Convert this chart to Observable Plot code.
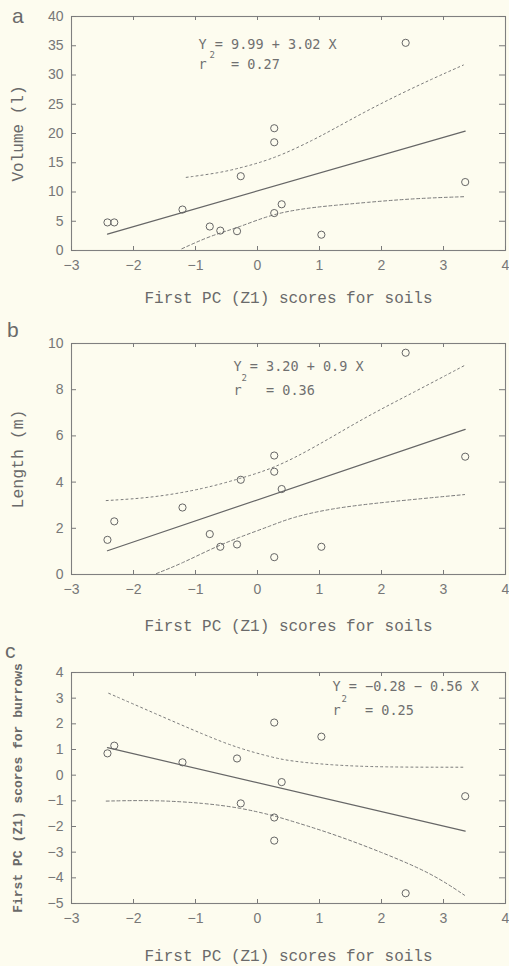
<!DOCTYPE html>
<html><head><meta charset="utf-8">
<script src="https://cdn.jsdelivr.net/npm/d3@7"></script>
<script src="https://cdn.jsdelivr.net/npm/@observablehq/plot@0.6"></script>
<style>
html,body{margin:0;padding:0;background:#fdfcef;}
#wrap{position:relative;width:509px;height:966px;overflow:hidden;}
#wrap svg{display:block;}
svg text{white-space:pre;}
.lbl{position:absolute;font-family:"Liberation Sans",sans-serif;font-size:21px;color:#6a6a6a;line-height:1;}
</style></head><body><div id="wrap"></div>
<script>
// ---- data ----
const soilPC   = [-2.42,-2.31,-1.21,-0.77,-0.60,-0.33,-0.27,0.27,0.27,0.27,0.39,1.03,2.39,3.35];
const volume   = [4.8,4.8,7.0,4.1,3.4,3.3,12.7,6.4,18.5,20.9,7.9,2.7,35.5,11.7];
const lengthM  = [1.5,2.3,2.9,1.75,1.2,1.3,4.1,0.75,4.45,5.15,3.7,1.2,9.6,5.1];
const soilPCc  = [-2.42,-2.31,-1.21,-0.33,-0.27,0.27,0.27,0.27,0.39,1.03,2.39,3.35];
const burrowPC = [0.85,1.15,0.5,0.65,-1.1,2.05,-1.65,-2.55,-0.27,1.5,-4.6,-0.82];

const fitX = [-2.42, 3.35];
const fitVolume = [2.8, 20.4];
const fitLength = [1.03, 6.28];
const fitBurrow = [1.07, -2.18];

const ciVolUpX = [-1.15,-0.6,-0.29,0.0,0.39,0.9,1.2,1.73,2.27,2.81,3.32];
const ciVolUpY = [12.5,13.3,14.1,14.9,16.3,18.9,20.6,23.7,26.6,29.3,31.7];
const ciVolLoX = [-1.22,-0.74,-0.31,0.27,0.92,1.23,1.73,2.53,3.34];
const ciVolLoY = [0.3,2.6,3.9,6.4,7.4,7.7,8.2,8.9,9.2];

const ciLenUpX = [-2.44,-1.66,-0.85,-0.29,0.27,0.92,1.73,2.53,3.34];
const ciLenUpY = [3.2,3.33,3.72,4.15,4.6,5.5,6.8,7.9,9.05];
const ciLenLoX = [-1.63,-1.22,-0.74,-0.31,0.23,0.55,1.19,2.0,3.34];
const ciLenLoY = [0.04,0.48,1.12,1.6,2.12,2.47,2.86,3.12,3.46];

const ciBurUpX = [-2.4,-1.66,-0.85,-0.31,0.23,0.52,1.19,2.0,3.34];
const ciBurUpY = [3.19,2.41,1.56,1.05,0.7,0.55,0.39,0.31,0.31];
const ciBurLoX = [-2.44,-1.66,-0.85,-0.26,0.23,0.39,1.19,2.0,2.81,3.34];
const ciBurLoY = [-1.01,-0.97,-1.09,-1.28,-1.56,-1.67,-2.26,-3.0,-3.82,-4.68];

const xTicks = [-3,-2,-1,0,1,2,3,4];
const yTicksA = [0,5,10,15,20,25,30,35,40];
const yTicksB = [0,2,4,6,8,10];
const yTicksC = [-5,-4,-3,-2,-1,0,1,2,3,4];

const xTitle = "First PC (Z1) scores for soils";
const yTitleA = "Volume (l)";
const yTitleB = "Length (m)";
const yTitleC = "First PC (Z1) scores for burrows";

// equation line 1, the "r" of line 2, and the rest of line 2
const eqA = ["Y = 9.99 + 3.02 X", "r", "= 0.27"];
const eqB = ["Y = 3.20 + 0.9 X", "r", "= 0.36"];
const eqC = ["Y = −0.28 − 0.56 X", "r", "= 0.25"];
const panelLetters = ["a", "b", "c"];

// ---- helpers ----
const zip = (xs, ys) => xs.map((x, i) => ({x, y: ys[i]}));
const INK = "#6f6f6f";
const fmt = d3.format("d");
const EQFONT = {fontFamily: "DejaVu Sans Mono, monospace", fontSize: 13.5, fill: "#707070", textAnchor: "start", lineAnchor: "middle", frameAnchor: "top-left"};

function panel(o) {
  const fw = 509 - 71 - 4;
  const fh = o.height - o.marginTop - o.marginBottom;
  const tk = {stroke: "#7a7a7a", strokeWidth: 1};
  return Plot.plot({
    width: 509, height: o.height,
    marginLeft: 71, marginRight: 4, marginTop: o.marginTop, marginBottom: o.marginBottom,
    style: {background: "transparent", color: INK, fontFamily: "Liberation Sans, sans-serif", fontSize: "14px"},
    x: {domain: [-3, 4]},
    y: {domain: o.yDomain},
    marks: [
      Plot.frame({stroke: "#808080", strokeWidth: 1.1}),
      // inward ticks on all four sides
      Plot.tickY(o.yTicks, {y: d => d, insetRight: fw - 5, ...tk}),
      Plot.tickY(o.yTicks, {y: d => d, insetLeft: fw - 6, ...tk}),
      Plot.tickX(xTicks, {x: d => d, insetTop: fh - 4, ...tk}),
      Plot.tickX(xTicks, {x: d => d, insetBottom: fh - 4, ...tk}),
      Plot.axisX({ticks: xTicks, tickSize: 0, tickPadding: 10, tickFormat: fmt, label: null, fontSize: 14, fill: "#777"}),
      Plot.axisY({ticks: o.yTicks, tickSize: 0, tickPadding: 8, tickFormat: fmt, label: null, fontSize: 14, fill: "#777"}),
      Plot.line(zip(o.upX, o.upY), {x: "x", y: "y", stroke: "#7a7a7a", strokeWidth: 1, strokeDasharray: "2,3", curve: "basis"}),
      Plot.line(zip(o.loX, o.loY), {x: "x", y: "y", stroke: "#7a7a7a", strokeWidth: 1, strokeDasharray: "3,2.5", curve: "basis"}),
      Plot.line(zip(fitX, o.fitY), {x: "x", y: "y", stroke: "#666", strokeWidth: 1.2}),
      Plot.dot(zip(o.px, o.py), {x: "x", y: "y", r: 3.6, stroke: "#666", strokeWidth: 1, fill: "none"}),
      Plot.text([o.eq[0]], {text: d => d, ...EQFONT, dx: o.eqDx, dy: o.eqDy1}),
      Plot.text([o.eq[1]], {text: d => d, ...EQFONT, dx: o.eqDx, dy: o.eqDy2}),
      Plot.text([o.eq[2]], {text: d => d, ...EQFONT, dx: o.eqDx + 32.5, dy: o.eqDy2}),
      Plot.text(["2"], {text: d => d, ...EQFONT, fontSize: 9, dx: o.eqDx + o.supDx, dy: o.supDy}),
      Plot.text([xTitle], {text: d => d, frameAnchor: "bottom", dy: o.xTitleDy, lineAnchor: "middle", fontFamily: "Liberation Mono, monospace", fontSize: 16, letterSpacing: "-0.3px", fill: "#6a6a6a"}),
      Plot.text([o.yTitle], {text: d => d, frameAnchor: "left", dx: -54, rotate: -90, textAnchor: "middle", lineAnchor: "middle", fontFamily: "Liberation Mono, monospace", fontSize: o.yTitleSize, fontWeight: o.yTitleWeight || "normal", fill: "#6a6a6a"})
    ]
  });
}

const wrap = document.getElementById("wrap");
wrap.appendChild(panel({
  height: 312, marginTop: 16, marginBottom: 62, yDomain: [0, 40], yTicks: yTicksA,
  px: soilPC, py: volume, fitY: fitVolume,
  upX: ciVolUpX, upY: ciVolUpY, loX: ciVolLoX, loY: ciVolLoY,
  eq: eqA, eqDx: 127, eqDy1: 28, eqDy2: 48, supDx: 11, supDy: 38.5,
  xTitleDy: 47, yTitle: yTitleA, yTitleSize: 16
}));
wrap.appendChild(panel({
  height: 326, marginTop: 31, marginBottom: 64, yDomain: [0, 10], yTicks: yTicksB,
  px: soilPC, py: lengthM, fitY: fitLength,
  upX: ciLenUpX, upY: ciLenUpY, loX: ciLenLoX, loY: ciLenLoY,
  eq: eqB, eqDx: 162, eqDy1: 23, eqDy2: 47, supDx: 8, supDy: 35,
  xTitleDy: 51, yTitle: yTitleB, yTitleSize: 16.5
}));
wrap.appendChild(panel({
  height: 328, marginTop: 34, marginBottom: 63, yDomain: [-5, 4], yTicks: yTicksC,
  px: soilPCc, py: burrowPC, fitY: fitBurrow,
  upX: ciBurUpX, upY: ciBurUpY, loX: ciBurLoX, loY: ciBurLoY,
  eq: eqC, eqDx: 261, eqDy1: 14, eqDy2: 38, supDx: 9, supDy: 27,
  xTitleDy: 52, yTitle: yTitleC, yTitleSize: 13, yTitleWeight: "bold"
}));

const letterPos = [[12, 5], [7, 319], [5, 640]];
panelLetters.forEach((t, i) => {
  const d = document.createElement("div");
  d.className = "lbl";
  d.textContent = t;
  d.style.left = letterPos[i][0] + "px";
  d.style.top = letterPos[i][1] + "px";
  wrap.appendChild(d);
});
</script></body></html>
